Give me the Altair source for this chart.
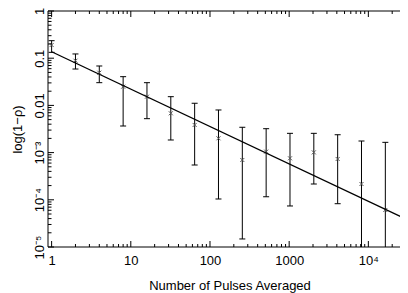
import altair as alt
import pandas as pd

# ---- data ----
n_pulses = [1, 2, 4, 8, 16, 32, 64, 128, 256, 512, 1024, 2048, 4096, 8192, 16384]
rho_mid = [0.190, 0.0885, 0.0493, 0.0249, 0.0153, 0.0068, 0.00385, 0.00201,
           0.000697, 0.00105, 0.000757, 0.00101, 0.000732, 0.000216, 0.0000608]
rho_hi = [0.235, 0.123, 0.0684, 0.0406, 0.0303, 0.0153, 0.0111, 0.0080,
          0.00344, 0.00321, 0.00256, 0.00256, 0.00239, 0.00176, 0.00165]
rho_lo = [0.133, 0.059, 0.0303, 0.00366, 0.00523, 0.00185, 0.000546, 0.000104,
          0.0000148, 0.000116, 0.000074, 0.000216, 0.0000826, 0.000001, 0.000001]

fit_n = [1, 35000]
fit_rho = [0.137, 0.0000346]

x_major = [1, 10, 100, 1000, 10000]
x_major_labels = ["1", "10", "100", "1000", "10⁴"]
x_minor = [m * 10 ** e for e in range(0, 5) for m in range(2, 10) if m * 10 ** e < 25000]
y_major = [1e-5, 1e-4, 1e-3, 1e-2, 1e-1, 1]
y_major_labels = ["10⁻⁵", "10⁻⁴", "10⁻³", "0.01", "0.1", "1"]
y_minor = [m * 10.0 ** e for e in range(-5, 0) for m in range(2, 10)]

W, H = 352, 236
FONT = "Liberation Sans"

df = pd.DataFrame({"n": n_pulses, "p": rho_mid, "hi": rho_hi, "lo": rho_lo})
fit_df = pd.DataFrame({"n": fit_n, "p": fit_rho})

xscale = alt.Scale(type="log", domain=[0.9, 25100], nice=False)
yscale = alt.Scale(type="log", domain=[1e-5, 1], nice=False)

x_lab_expr = "[" + ",".join(f"'{s}'" for s in x_major_labels) + "][round(log(datum.value)/LN10)]"
y_lab_expr = "[" + ",".join(f"'{s}'" for s in y_major_labels) + "][round(log(datum.value)/LN10)+5]"

TITLE_X = "Number of Pulses Averaged"
TITLE_Y = "log(1−ρ)"

xaxis = alt.Axis(values=x_major, labelExpr=x_lab_expr, ticks=False, domain=False, grid=False,
                 labelPadding=7, labelFontSize=13, labelFont=FONT, labelColor="black",
                 labelFlush=False, labelOverlap=False,
                 title=TITLE_X, titleFont=FONT, titleFontSize=13,
                 titleFontWeight="normal", titleColor="black", titlePadding=12,
                 titleX=(411 - 48) / 2)
yaxis = alt.Axis(values=y_major, labelExpr=y_lab_expr, ticks=False, domain=False, grid=False,
                 labelAngle=270, labelAlign="center", labelBaseline="alphabetic",
                 labelPadding=5, labelFontSize=13, labelFont=FONT, labelColor="black",
                 labelFlush=False, labelOverlap=False,
                 title=TITLE_Y, titleFont=FONT, titleFontSize=13, titleFontWeight="normal",
                 titleColor="black", titleAngle=270, titleAlign="center",
                 titleBaseline="alphabetic", titleX=-27, titleY=H / 2)


def X(field="n"):
    return alt.X(f"{field}:Q", scale=xscale, axis=xaxis, title=TITLE_X)


def Y(field="p"):
    return alt.Y(f"{field}:Q", scale=yscale, axis=yaxis, title=TITLE_Y)


base = alt.Chart(df)

err = base.mark_rule(color="black", strokeWidth=1, clip=True).encode(
    x=X(), y=Y("lo"), y2="hi:Q")
cap_path = "M -1 0 L 1 0"
cap_hi = base.mark_point(shape=cap_path, size=36, filled=False, color="black",
                         strokeWidth=1, opacity=1, clip=True).encode(x=X(), y=Y("hi"))
cap_lo = base.mark_point(shape=cap_path, size=36, filled=False, color="black",
                         strokeWidth=1, opacity=1, clip=True).encode(x=X(), y=Y("lo"))
marks = base.mark_point(shape="M -1 -1 L 1 1 M -1 1 L 1 -1", size=16, filled=False,
                        color="#555555", strokeWidth=1, opacity=1, clip=True).encode(
    x=X(), y=Y())
fit = alt.Chart(fit_df).mark_line(color="black", strokeWidth=1.3, clip=True).encode(
    x=X(), y=Y())


def ticks_y(vals, x0, x1):
    return alt.Chart(pd.DataFrame({"p": vals})).mark_rule(color="black", strokeWidth=1).encode(
        y=Y(), x=alt.value(x0), x2=alt.value(x1))


def ticks_x(vals, y0, y1):
    return alt.Chart(pd.DataFrame({"n": vals})).mark_rule(color="black", strokeWidth=1).encode(
        x=X(), y=alt.value(y0), y2=alt.value(y1))


frame_df = pd.DataFrame({"n": [1]})
frame = [
    alt.Chart(frame_df).mark_rule(color="black", strokeWidth=1).encode(
        x=alt.value(0), x2=alt.value(W), y=alt.value(0)),
    alt.Chart(frame_df).mark_rule(color="black", strokeWidth=1).encode(
        x=alt.value(0), x2=alt.value(W), y=alt.value(H)),
    alt.Chart(frame_df).mark_rule(color="black", strokeWidth=1).encode(
        x=alt.value(0), y=alt.value(0), y2=alt.value(H)),
]

axis_ticks = [
    ticks_y(y_major, 0, 6), ticks_y(y_minor, 0, 3.5),
    ticks_x(x_major, H, H - 6), ticks_x(x_minor, H, H - 3),
    ticks_x(x_major, 0, 6), ticks_x(x_minor, 0, 3),
]

chart = alt.layer(err, cap_hi, cap_lo, marks, fit, *axis_ticks, *frame).properties(
    width=W, height=H,
    autosize=alt.AutoSizeParams(type="none"),
    padding={"left": 40, "top": 3, "right": 0, "bottom": 46},
    background="white",
).configure_view(stroke=None)

chart.save("out.html", embed_options={"renderer": "svg", "actions": False})
